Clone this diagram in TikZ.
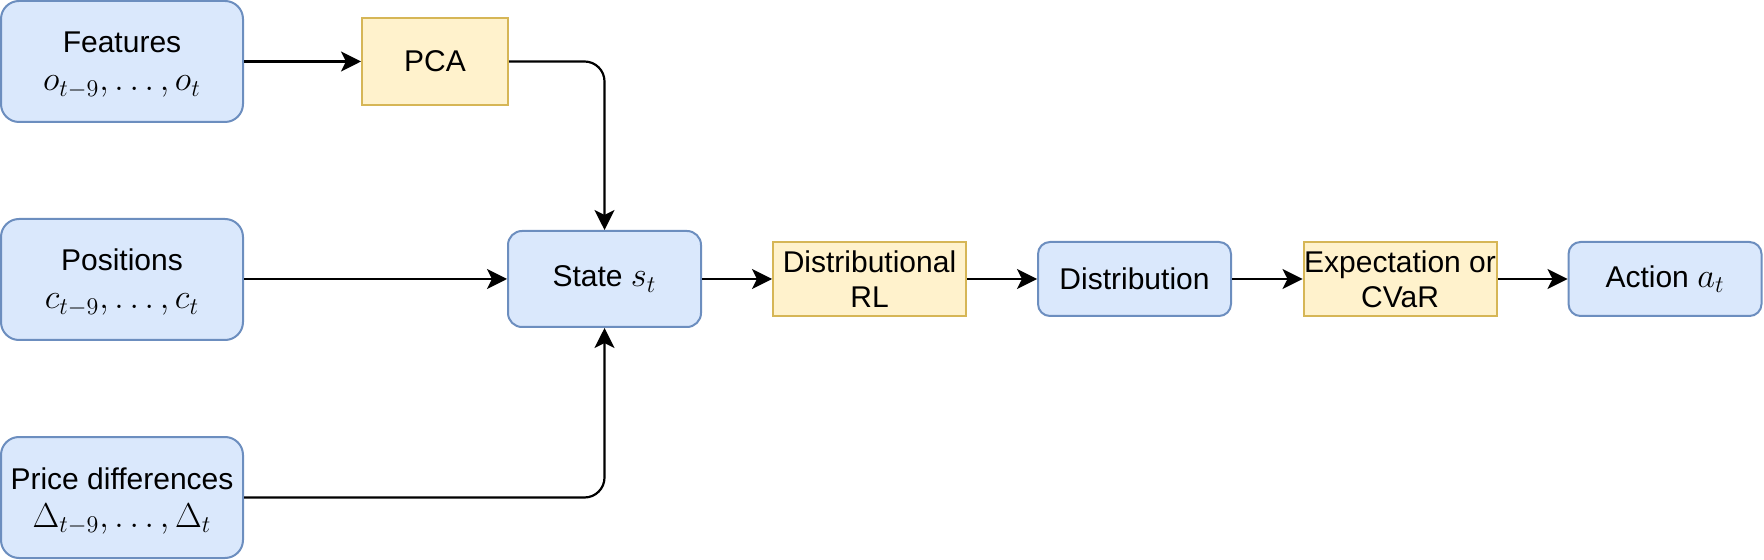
\documentclass[tikz,border=0pt]{standalone}
\usepackage{fontspec}
\setmainfont{Liberation Sans}
\usetikzlibrary{arrows.meta}
\definecolor{bfill}{HTML}{DAE8FC}
\definecolor{bdraw}{HTML}{6C8EBF}
\definecolor{yfill}{HTML}{FFF2CC}
\definecolor{ydraw}{HTML}{D6B656}
\newcommand{\mth}[1]{{\fontsize{17.7}{21}\selectfont$#1$}}
\tikzset{
  base/.style={inner sep=0pt, align=center, font=\fontsize{15}{17.5}\selectfont, line width=1pt},
  txt/.style={inner sep=0pt, font=\fontsize{15}{17.5}\selectfont, anchor=base},
  bluebox/.style={base, fill=bfill, draw=bdraw},
  yellowbox/.style={base, fill=yfill, draw=ydraw},
  big/.style={bluebox, rounded corners=9pt, minimum width=121pt, minimum height=60.5pt},
  mid/.style={bluebox, rounded corners=7pt, minimum width=96.5pt, minimum height=48pt},
  small/.style={bluebox, rounded corners=6pt, minimum width=96.5pt, minimum height=37pt},
  ybox/.style={yellowbox, minimum width=96.5pt, minimum height=37pt},
  conn/.style={line width=1.1pt, -{Stealth[length=10pt,width=10pt,inset=2.5pt]}}
}
\begin{document}
\begin{tikzpicture}[x=0.5pt,y=-0.5pt]
\useasboundingbox (0,0) rectangle (1764,560);
\node[big] (feat) at (122,61.5) {};
\node[txt] (featA) at (122,53) {Features};
\node[txt] (featB) at (122,91) {\mth{o_{t-9},\ldots,o_t}};
\node[yellowbox, minimum width=73pt, minimum height=43.5pt] (pca) at (435,61.5) {PCA};
\node[big] (pos) at (122,279.5) {};
\node[txt] (posA) at (122,271) {Positions};
\node[txt] (posB) at (122,309) {\mth{c_{t-9},\ldots,c_t}};
\node[big] (price) at (122,497.5) {};
\node[txt] (priceA) at (122,489) {Price differences};
\node[txt] (priceB) at (122,527) {\mth{\Delta_{t-9},\ldots,\Delta_t}};
\node[mid] (state) at (604.5,279) {State \mth{s_t}};
\node[ybox] (drl) at (869.5,279) {Distributional\\RL};
\node[small] (dist) at (1134.5,279) {Distribution};
\node[ybox] (exp) at (1400,279) {Expectation or\\CVaR};
\node[small] (act) at (1665,279) {Action \mth{a_t}};
\draw[conn] (feat.east |- pca.west) -- (pca.west);
\draw[conn, rounded corners=10pt] (pca.east) -| (state.north);
\draw[conn] (pos.east |- state.west) -- (state.west);
\draw[conn, rounded corners=10pt] (price.east) -| (state.south);
\draw[conn] (state) -- (drl);
\draw[conn] (drl) -- (dist);
\draw[conn] (dist) -- (exp);
\draw[conn] (exp) -- (act);
\end{tikzpicture}
\end{document}
